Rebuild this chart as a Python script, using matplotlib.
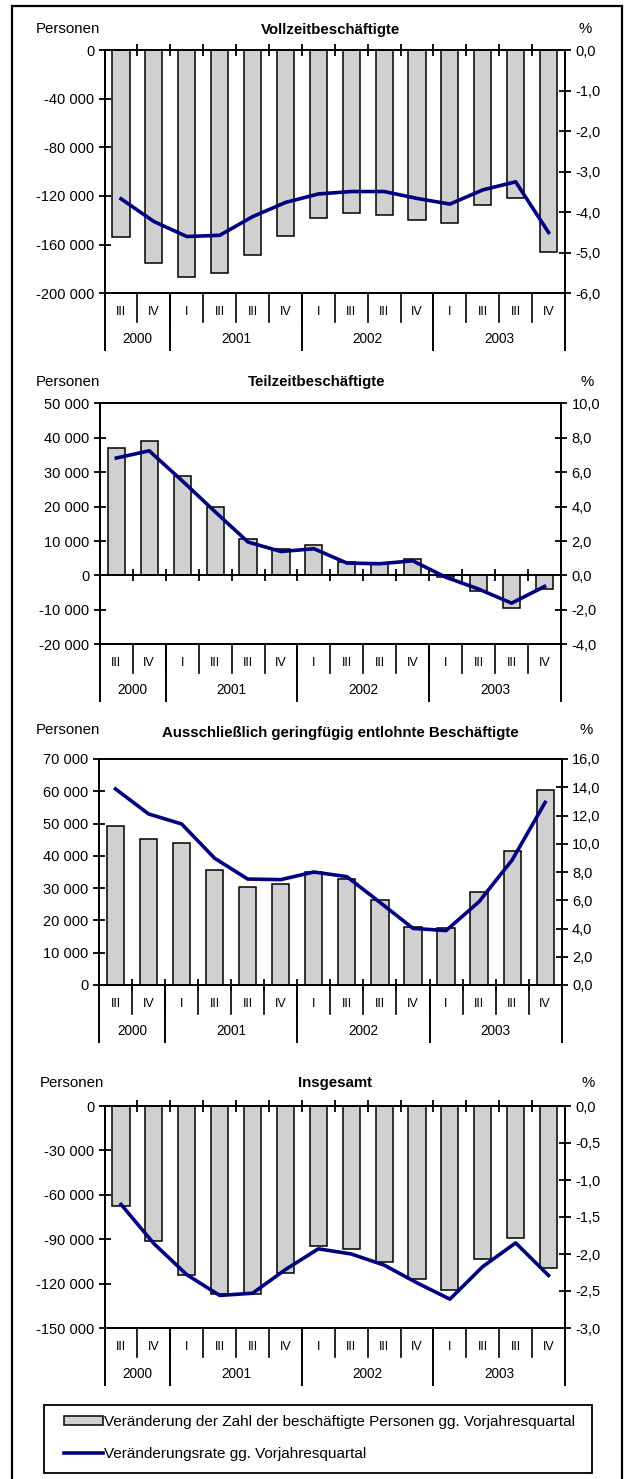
import numpy as np
import matplotlib
matplotlib.use('Agg')
import matplotlib.pyplot as plt
from matplotlib.patches import Rectangle

plt.rcParams['font.family'] = ['Liberation Sans', 'DejaVu Sans']

W, H = 626, 1479

quarters = ['III', 'IV', 'I', 'III', 'III', 'IV', 'I', 'III', 'III', 'IV', 'I', 'III', 'III', 'IV']
years = ['2000', '2001', '2002', '2003']
year_bounds = [-0.5, 1.5, 5.5, 9.5, 13.5]

# Vollzeitbeschäftigte
voll_pers = [-154000, -175000, -187000, -183000, -168500, -152500, -138000,
             -134000, -135500, -139500, -142000, -127500, -121500, -166000]
voll_rate = [-3.67, -4.23, -4.60, -4.57, -4.11, -3.76, -3.55,
             -3.49, -3.49, -3.66, -3.80, -3.45, -3.25, -4.50]

# Teilzeitbeschäftigte
teil_pers = [37000, 39000, 28800, 20000, 10700, 7800, 8800,
             3800, 3400, 4800, -500, -4600, -9600, -4000]
teil_rate = [6.82, 7.24, 5.50, 3.70, 1.94, 1.39, 1.55,
             0.72, 0.68, 0.85, -0.10, -0.79, -1.61, -0.64]

# Ausschließlich geringfügig entlohnte Beschäftigte
gering_pers = [49300, 45200, 44000, 35700, 30500, 31300, 35000,
               32900, 26300, 18000, 17700, 28700, 41600, 60500]
gering_rate = [13.88, 12.11, 11.40, 8.97, 7.50, 7.46, 8.00,
               7.67, 5.85, 4.01, 3.85, 5.90, 8.85, 12.93]

# Insgesamt
ges_pers = [-67500, -91000, -114500, -127000, -126800, -113000, -94400,
            -96700, -105500, -116700, -124400, -103200, -89300, -109300]
ges_rate = [-1.33, -1.86, -2.28, -2.56, -2.53, -2.21, -1.93,
            -2.00, -2.15, -2.39, -2.61, -2.17, -1.85, -2.29]

legend_labels = ['Veränderung der Zahl der beschäftigte Personen gg. Vorjahresquartal',
                 'Veränderungsrate gg. Vorjahresquartal']

panels = [
    dict(title='Vollzeitbeschäftigte', pers=voll_pers, rate=voll_rate,
         box=(104.6, 50, 565, 293.3), ylim=(-200000, 0), ystep=40000, rlim=(-6, 0), rstep=1.0,
         title_xy=(331, 30), pers_xy=(36, 29), pct_xy=(585, 29)),
    dict(title='Teilzeitbeschäftigte', pers=teil_pers, rate=teil_rate,
         box=(99.8, 403.3, 561, 644.3), ylim=(-20000, 50000), ystep=10000, rlim=(-4, 10), rstep=2.0,
         title_xy=(317, 382), pers_xy=(36, 382), pct_xy=(587, 382)),
    dict(title='Ausschließlich geringfügig entlohnte Beschäftigte', pers=gering_pers, rate=gering_rate,
         box=(99, 759, 561.7, 985), ylim=(0, 70000), ystep=10000, rlim=(0, 16), rstep=2.0,
         title_xy=(340, 733), pers_xy=(36, 730), pct_xy=(586, 730)),
    dict(title='Insgesamt', pers=ges_pers, rate=ges_rate,
         box=(104.6, 1106, 565, 1328), ylim=(-150000, 0), ystep=30000, rlim=(-3, 0), rstep=0.5,
         title_xy=(335, 1083), pers_xy=(40, 1083), pct_xy=(588, 1083)),
]

BAR_COLOR = '#d0d0d0'
LINE_COLOR = '#000080'

fig = plt.figure(figsize=(W / 100, H / 100), dpi=100)


def fx(px):
    return px / W


def fy(py):
    return 1 - py / H


def thousands(v):
    return f'{v:,.0f}'.replace(',', ' ')


def comma1(v):
    return f'{v:.1f}'.replace('.', ',')


x = np.arange(len(quarters))
bounds = np.arange(0.5, len(quarters) - 0.5, 1.0)

for p in panels:
    l, t, r, b = p['box']
    ax = fig.add_axes([fx(l), fy(b), fx(r - l), (b - t) / H])
    h_px = b - t

    bars = ax.bar(x, p['pers'], width=0.52, color=BAR_COLOR, edgecolor='black', linewidth=1.1, zorder=2)
    ax.set_xlim(-0.5, len(quarters) - 0.5)
    ax.set_ylim(*p['ylim'])
    yt = np.arange(p['ylim'][0], p['ylim'][1] + 1, p['ystep'])
    ax.set_yticks(yt)
    ax.set_yticklabels([thousands(v) for v in yt])
    ax.set_xticks([])
    for s in ax.spines.values():
        s.set_linewidth(1.4)
        s.set_color('black')
    ax.tick_params(axis='y', direction='inout', length=9, width=1.3, labelsize=10.5, pad=3)

    # zero line with category ticks
    ax.axhline(0, color='black', lw=1.4, zorder=3)
    ax.plot(bounds, np.zeros(len(bounds)), linestyle='none', marker='|', markersize=9,
            mew=1.3, color='black', clip_on=False, zorder=4)

    ax2 = ax.twinx()
    ax2.set_xlim(-0.5, len(quarters) - 0.5)
    line, = ax2.plot(x, p['rate'], color=LINE_COLOR, lw=2.6, solid_joinstyle='round', zorder=5)
    ax2.set_ylim(*p['rlim'])
    rt = np.arange(p['rlim'][0], p['rlim'][1] + 1e-9, p['rstep'])
    ax2.set_yticks(rt)
    ax2.set_yticklabels([comma1(v) for v in rt])
    ax2.tick_params(axis='y', direction='inout', length=9, width=1.3, labelsize=10.5, pad=3)
    for s in ax2.spines.values():
        s.set_linewidth(1.4)

    # category table below the plot
    tr = ax.get_xaxis_transform()
    for bd in bounds:
        ax.plot([bd, bd], [0, -29 / h_px], transform=tr, color='black', lw=1.2, clip_on=False)
    for bd in year_bounds:
        ax.plot([bd, bd], [0, -57 / h_px], transform=tr, color='black', lw=1.4, clip_on=False)
    for i, q in enumerate(quarters):
        ax.text(i, -19 / h_px, q, transform=tr, ha='center', va='center', fontsize=9)
    for k, yr in enumerate(years):
        cx = (year_bounds[k] + year_bounds[k + 1]) / 2
        ax.text(cx, -46 / h_px, yr, transform=tr, ha='center', va='center', fontsize=9.8)

    fig.text(fx(p['title_xy'][0]), fy(p['title_xy'][1]), p['title'], ha='center', va='center',
             fontsize=10.8, fontweight='bold')
    fig.text(fx(p['pers_xy'][0]), fy(p['pers_xy'][1]), 'Personen', ha='left', va='center', fontsize=10.8)
    fig.text(fx(p['pct_xy'][0]), fy(p['pct_xy'][1]), '%', ha='center', va='center', fontsize=10.8)

    if p is panels[0]:
        leg_handles = [bars, line]

# legend: frame drawn separately, entries placed inside
fig.add_artist(Rectangle((fx(44), fy(1473)), fx(592 - 44), (1473 - 1405) / H, transform=fig.transFigure,
                         fill=False, edgecolor='black', lw=1.3))
leg = fig.legend(leg_handles, legend_labels, loc='center left', bbox_to_anchor=(fx(64), fy(1438)),
                 frameon=False, borderaxespad=0, borderpad=0, fontsize=11,
                 handlelength=2.55, handleheight=0.5, handletextpad=0.1, labelspacing=1.15)

# outer frame (open at the bottom)
fig.add_artist(Rectangle((fx(12), -0.01), fx(621.7 - 12), fy(6) + 0.01, transform=fig.transFigure,
                         fill=False, edgecolor='black', lw=1.6, clip_on=False))

fig.savefig('out.png', dpi=100)
